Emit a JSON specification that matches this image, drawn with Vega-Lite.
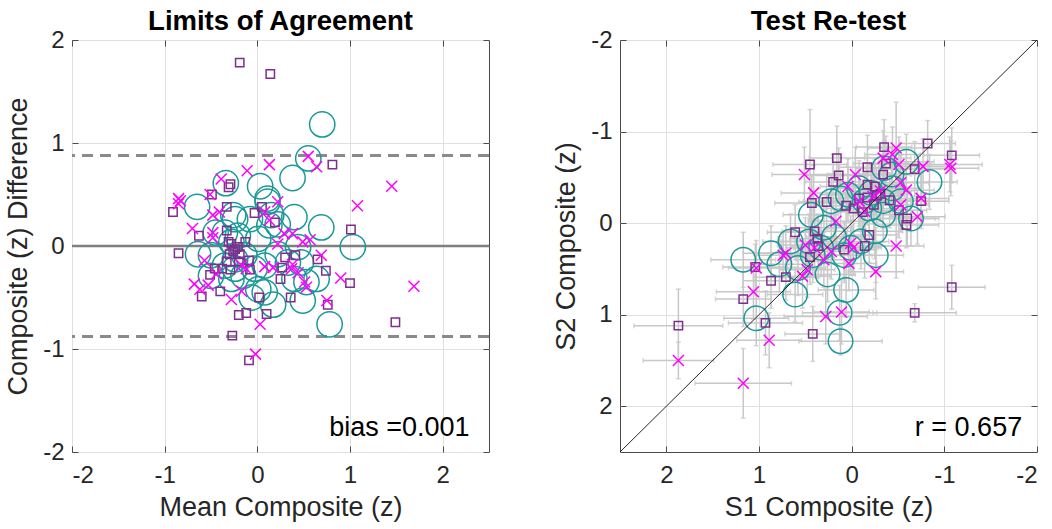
{
  "$schema": "https://vega.github.io/schema/vega-lite/v6.json",
  "background": "white",
  "padding": {"left": 4, "top": 7, "right": 5, "bottom": 5},
  "spacing": 61,
  "config": {
    "font": "Liberation Sans",
    "view": {"stroke": "#4a4a4a", "strokeWidth": 1},
    "axis": {
      "labelFont": "Liberation Sans", "labelFontSize": 24, "labelColor": "#262626",
      "titleFont": "Liberation Sans", "titleFontSize": 27, "titleFontWeight": "normal", "titleColor": "#262626",
      "domain": false, "gridColor": "#e0e0e0", "gridWidth": 1,
      "tickColor": "#4a4a4a", "tickSize": -6, "labelPadding": 14, "titlePadding": 10
    },
    "axisBottom": {"labelPadding": 17, "titlePadding": 7},
    "title": {"fontSize": 27.5, "font": "Liberation Sans", "fontWeight": "bold", "color": "#000000", "offset": -7}
  },
  "datasets": {
    "loa": [{"v": 0.878}, {"v": -0.878}],
    "zero": [{"v": 0}],
    "baSq": [
      {"m": -0.19, "d": 1.78}, {"m": 0.14, "d": 1.67}, {"m": 0.81, "d": 0.79}, {"m": -0.29, "d": 0.60}, {"m": -0.31, "d": 0.57},
      {"m": -0.49, "d": 0.50}, {"m": -0.91, "d": 0.33}, {"m": -0.33, "d": 0.38}, {"m": 0.05, "d": 0.38}, {"m": -0.03, "d": 0.32},
      {"m": 0.19, "d": 0.23}, {"m": 1.01, "d": 0.16}, {"m": -0.33, "d": 0.15}, {"m": -0.63, "d": 0.10}, {"m": -0.85, "d": -0.07},
      {"m": -0.31, "d": 0.04}, {"m": -0.28, "d": 0.02}, {"m": -0.21, "d": -0.01}, {"m": -0.13, "d": 0.04}, {"m": -0.26, "d": -0.05},
      {"m": -0.19, "d": -0.08}, {"m": 0.30, "d": -0.11}, {"m": 0.41, "d": -0.09}, {"m": 0.65, "d": -0.13}, {"m": -0.33, "d": -0.15},
      {"m": -0.20, "d": -0.15}, {"m": -0.09, "d": -0.14}, {"m": 0.74, "d": -0.24}, {"m": 1.00, "d": -0.36}, {"m": -0.38, "d": -0.22},
      {"m": -0.29, "d": -0.23}, {"m": -0.08, "d": -0.23}, {"m": 0.27, "d": -0.21}, {"m": -0.51, "d": -0.28}, {"m": 0.25, "d": -0.32},
      {"m": -0.40, "d": -0.44}, {"m": -0.60, "d": -0.49}, {"m": 0.02, "d": -0.50}, {"m": 0.36, "d": -0.50}, {"m": 0.76, "d": -0.57},
      {"m": -0.20, "d": -0.67}, {"m": -0.12, "d": -0.65}, {"m": 0.10, "d": -0.66}, {"m": 1.49, "d": -0.74}, {"m": -0.27, "d": -0.87},
      {"m": -0.09, "d": -1.11}, {"m": -0.46, "d": -0.22}, {"m": -0.24, "d": -0.03}, {"m": -0.30, "d": -0.08}
    ],
    "baX": [
      {"m": 0.55, "d": 0.87}, {"m": 0.64, "d": 0.77}, {"m": 0.13, "d": 0.79}, {"m": -0.11, "d": 0.73}, {"m": 1.45, "d": 0.58},
      {"m": 1.08, "d": 0.39}, {"m": -0.39, "d": 0.65}, {"m": -0.51, "d": 0.50}, {"m": -0.85, "d": 0.46}, {"m": -0.83, "d": 0.44},
      {"m": -0.85, "d": 0.41}, {"m": 0.22, "d": 0.43}, {"m": -0.48, "d": 0.30}, {"m": -0.41, "d": 0.33}, {"m": 0.08, "d": 0.33},
      {"m": 0.13, "d": 0.25}, {"m": -0.70, "d": 0.17}, {"m": -0.48, "d": 0.13}, {"m": -0.48, "d": 0.08}, {"m": 0.29, "d": 0.12},
      {"m": 0.38, "d": 0.12}, {"m": 0.49, "d": 0.04}, {"m": 0.57, "d": 0.06}, {"m": 0.22, "d": 0.02}, {"m": 0.69, "d": -0.09},
      {"m": -0.57, "d": -0.14}, {"m": 0.08, "d": -0.20}, {"m": 0.17, "d": -0.21}, {"m": 0.37, "d": -0.22}, {"m": -0.17, "d": -0.19},
      {"m": -0.12, "d": -0.22}, {"m": -0.44, "d": -0.27}, {"m": 0.90, "d": -0.31}, {"m": 1.69, "d": -0.39}, {"m": 0.51, "d": -0.35},
      {"m": 0.53, "d": -0.40}, {"m": -0.68, "d": -0.37}, {"m": -0.62, "d": -0.42}, {"m": -0.53, "d": -0.38}, {"m": -0.28, "d": -0.52},
      {"m": -0.17, "d": -0.44}, {"m": 0.75, "d": -0.53}, {"m": 0.03, "d": -0.76}, {"m": -0.02, "d": -1.05}, {"m": 0.44, "d": -0.26},
      {"m": 0.38, "d": -0.18}
    ],
    "baCi": [
      {"m": 0.70, "d": 1.18}, {"m": 0.55, "d": 0.85}, {"m": 0.38, "d": 0.66}, {"m": -0.34, "d": 0.61}, {"m": 0.03, "d": 0.58},
      {"m": 0.11, "d": 0.46}, {"m": 0.11, "d": 0.43}, {"m": -0.65, "d": 0.38}, {"m": -0.26, "d": 0.30}, {"m": -0.24, "d": 0.26},
      {"m": 0.15, "d": 0.30}, {"m": 0.22, "d": 0.21}, {"m": 0.13, "d": 0.20}, {"m": 0.40, "d": 0.28}, {"m": 0.69, "d": 0.18},
      {"m": 1.03, "d": -0.01}, {"m": -0.45, "d": 0.13}, {"m": -0.35, "d": 0.13}, {"m": -0.21, "d": 0.10}, {"m": -0.28, "d": 0.04},
      {"m": 0.01, "d": 0.07}, {"m": 0.44, "d": -0.01}, {"m": 0.22, "d": -0.08}, {"m": -0.64, "d": -0.08}, {"m": -0.50, "d": -0.09},
      {"m": -0.24, "d": -0.13}, {"m": -0.14, "d": -0.09}, {"m": -0.35, "d": -0.19}, {"m": -0.24, "d": -0.22}, {"m": -0.28, "d": -0.32},
      {"m": -0.50, "d": -0.29}, {"m": 0.33, "d": -0.16}, {"m": 0.47, "d": -0.16}, {"m": 0.64, "d": -0.32}, {"m": 0.40, "d": -0.32},
      {"m": 0.53, "d": -0.35}, {"m": 0.01, "d": -0.42}, {"m": -0.06, "d": -0.50}, {"m": 0.17, "d": -0.57}, {"m": 0.49, "d": -0.53},
      {"m": 0.78, "d": -0.76}, {"m": -0.15, "d": -0.29}, {"m": -0.03, "d": -0.22}, {"m": -0.08, "d": 0.26}, {"m": 0.08, "d": -0.19},
      {"m": 0.08, "d": -0.45}
    ],
    "tr": [
      {"g": "s", "a": 1.87, "b": 1.12, "ea": 0.48, "eb": 0.40}, {"g": "s", "a": 1.17, "b": 0.83, "ea": 0.30, "eb": 0.30},
      {"g": "s", "a": 1.04, "b": 0.48, "ea": 0.35, "eb": 0.25}, {"g": "s", "a": 0.87, "b": 0.63, "ea": 0.30, "eb": 0.30},
      {"g": "s", "a": 0.71, "b": 0.59, "ea": 0.35, "eb": 0.25}, {"g": "s", "a": 0.93, "b": 1.09, "ea": 0.40, "eb": 0.35},
      {"g": "s", "a": 0.42, "b": 1.21, "ea": 0.30, "eb": 0.30}, {"g": "s", "a": -0.68, "b": 0.98, "ea": 0.45, "eb": 0.10},
      {"g": "s", "a": -1.08, "b": 0.70, "ea": 0.36, "eb": 0.24}, {"g": "s", "a": 0.61, "b": 0.10, "ea": 0.30, "eb": 0.30},
      {"g": "s", "a": 0.40, "b": 0.09, "ea": 0.35, "eb": 0.30}, {"g": "s", "a": 0.36, "b": 0.25, "ea": 0.30, "eb": 0.35},
      {"g": "s", "a": 0.45, "b": 0.37, "ea": 0.25, "eb": 0.30}, {"g": "s", "a": 0.37, "b": 0.17, "ea": 0.30, "eb": 0.25},
      {"g": "s", "a": 0.08, "b": 0.29, "ea": 0.35, "eb": 0.30}, {"g": "s", "a": -0.14, "b": 0.25, "ea": 0.30, "eb": 0.35},
      {"g": "s", "a": -0.19, "b": 0.13, "ea": 0.30, "eb": 0.30}, {"g": "s", "a": 0.43, "b": -0.22, "ea": 0.40, "eb": 0.30},
      {"g": "s", "a": 0.27, "b": -0.23, "ea": 0.30, "eb": 0.30}, {"g": "s", "a": 0.06, "b": -0.19, "ea": 0.35, "eb": 0.25},
      {"g": "s", "a": 0.45, "b": -0.64, "ea": 0.40, "eb": 0.60}, {"g": "s", "a": 0.16, "b": -0.71, "ea": 0.30, "eb": 0.35},
      {"g": "s", "a": 0.14, "b": -0.52, "ea": 0.35, "eb": 0.30}, {"g": "s", "a": 0.20, "b": -0.45, "ea": 0.30, "eb": 0.30},
      {"g": "s", "a": -0.17, "b": -0.61, "ea": 0.30, "eb": 0.35}, {"g": "s", "a": -0.35, "b": -0.83, "ea": 0.30, "eb": 0.30},
      {"g": "s", "a": -0.37, "b": -0.65, "ea": 0.35, "eb": 0.30}, {"g": "s", "a": -0.82, "b": -0.87, "ea": 0.30, "eb": 0.25},
      {"g": "s", "a": -1.08, "b": -0.74, "ea": 0.30, "eb": 0.30}, {"g": "s", "a": -0.68, "b": -0.59, "ea": 0.35, "eb": 0.30},
      {"g": "s", "a": -0.75, "b": -0.24, "ea": 0.30, "eb": 0.30}, {"g": "s", "a": -0.60, "b": -0.05, "ea": 0.30, "eb": 0.30},
      {"g": "s", "a": -0.59, "b": 0.02, "ea": 0.35, "eb": 0.25}, {"g": "s", "a": -0.51, "b": -0.14, "ea": 0.30, "eb": 0.30},
      {"g": "s", "a": -0.41, "b": -0.25, "ea": 0.30, "eb": 0.30}, {"g": "s", "a": -0.17, "b": -0.42, "ea": 0.30, "eb": 0.30},
      {"g": "s", "a": -0.25, "b": -0.40, "ea": 0.30, "eb": 0.30}, {"g": "s", "a": -0.27, "b": -0.30, "ea": 0.30, "eb": 0.30},
      {"g": "s", "a": -0.31, "b": -0.32, "ea": 0.30, "eb": 0.30}, {"g": "s", "a": -0.17, "b": -0.28, "ea": 0.30, "eb": 0.30},
      {"g": "s", "a": -0.08, "b": -0.27, "ea": 0.30, "eb": 0.30}, {"g": "s", "a": -0.34, "b": -0.53, "ea": 0.30, "eb": 0.30},
      {"g": "s", "a": -0.02, "b": -0.16, "ea": 0.30, "eb": 0.30}, {"g": "s", "a": -0.24, "b": -0.20, "ea": 0.30, "eb": 0.30},
      {"g": "s", "a": -0.12, "b": -0.12, "ea": 0.30, "eb": 0.30},
      {"g": "x", "a": 1.87, "b": 1.50, "ea": 0.38, "eb": 0.20}, {"g": "x", "a": 1.17, "b": 1.75, "ea": 0.52, "eb": 0.38},
      {"g": "x", "a": 0.89, "b": 1.28, "ea": 0.35, "eb": 0.30}, {"g": "x", "a": 1.06, "b": 0.75, "ea": 0.40, "eb": 0.30},
      {"g": "x", "a": 1.03, "b": 0.49, "ea": 0.30, "eb": 0.30}, {"g": "x", "a": 0.74, "b": 0.35, "ea": 0.30, "eb": 0.25},
      {"g": "x", "a": 0.71, "b": 0.33, "ea": 0.35, "eb": 0.30}, {"g": "x", "a": 0.53, "b": 0.58, "ea": 0.30, "eb": 0.35},
      {"g": "x", "a": 0.48, "b": 0.51, "ea": 0.30, "eb": 0.30}, {"g": "x", "a": 0.50, "b": 0.24, "ea": 0.30, "eb": 0.30},
      {"g": "x", "a": 0.41, "b": -0.33, "ea": 0.35, "eb": 0.30}, {"g": "x", "a": 0.51, "b": -0.53, "ea": 0.35, "eb": 0.30},
      {"g": "x", "a": 0.28, "b": 1.02, "ea": 0.45, "eb": 0.30}, {"g": "x", "a": 0.11, "b": 0.97, "ea": 0.30, "eb": 0.35},
      {"g": "x", "a": 0.30, "b": 0.40, "ea": 0.30, "eb": 0.30}, {"g": "x", "a": 0.22, "b": 0.31, "ea": 0.30, "eb": 0.30},
      {"g": "x", "a": 0.03, "b": 0.44, "ea": 0.30, "eb": 0.30}, {"g": "x", "a": -0.02, "b": 0.27, "ea": 0.30, "eb": 0.30},
      {"g": "x", "a": -0.26, "b": 0.53, "ea": 0.30, "eb": 0.30}, {"g": "x", "a": -0.48, "b": 0.25, "ea": 0.30, "eb": 0.35},
      {"g": "x", "a": 0.17, "b": -0.02, "ea": 0.30, "eb": 0.30}, {"g": "x", "a": 0.04, "b": -0.40, "ea": 0.30, "eb": 0.30},
      {"g": "x", "a": -0.04, "b": -0.53, "ea": 0.30, "eb": 0.30}, {"g": "x", "a": -0.08, "b": -0.24, "ea": 0.30, "eb": 0.30},
      {"g": "x", "a": -0.23, "b": -0.29, "ea": 0.30, "eb": 0.30}, {"g": "x", "a": -0.14, "b": -0.13, "ea": 0.30, "eb": 0.30},
      {"g": "x", "a": -0.48, "b": -0.82, "ea": 0.30, "eb": 0.50}, {"g": "x", "a": -0.44, "b": -0.75, "ea": 0.30, "eb": 0.30},
      {"g": "x", "a": -0.34, "b": -0.71, "ea": 0.30, "eb": 0.30}, {"g": "x", "a": -0.51, "b": -0.64, "ea": 0.35, "eb": 0.30},
      {"g": "x", "a": -0.53, "b": -0.44, "ea": 0.30, "eb": 0.30}, {"g": "x", "a": -0.59, "b": -0.36, "ea": 0.30, "eb": 0.30},
      {"g": "x", "a": -0.77, "b": -0.62, "ea": 0.30, "eb": 0.30}, {"g": "x", "a": -0.75, "b": -0.27, "ea": 0.30, "eb": 0.30},
      {"g": "x", "a": -0.71, "b": -0.07, "ea": 0.30, "eb": 0.30}, {"g": "x", "a": -1.06, "b": -0.64, "ea": 0.35, "eb": 0.30},
      {"g": "x", "a": -1.07, "b": -0.60, "ea": 0.30, "eb": 0.30}, {"g": "x", "a": -0.53, "b": -0.20, "ea": 0.30, "eb": 0.30},
      {"g": "x", "a": -0.31, "b": -0.35, "ea": 0.30, "eb": 0.30}, {"g": "x", "a": 0.01, "b": 0.22, "ea": 0.30, "eb": 0.30},
      {"g": "x", "a": 0.40, "b": 0.27, "ea": 0.30, "eb": 0.30},
      {"g": "c", "a": 1.17, "b": 0.40, "ea": 0.35, "eb": 0.30}, {"g": "c", "a": 1.03, "b": 1.04, "ea": 0.35, "eb": 0.30},
      {"g": "c", "a": 0.61, "b": 0.78, "ea": 0.30, "eb": 0.30}, {"g": "c", "a": 0.78, "b": 0.45, "ea": 0.30, "eb": 0.30},
      {"g": "c", "a": 0.66, "b": 0.20, "ea": 0.30, "eb": 0.30}, {"g": "c", "a": 0.46, "b": 0.20, "ea": 0.30, "eb": 0.30},
      {"g": "c", "a": 0.42, "b": 0.35, "ea": 0.30, "eb": 0.30}, {"g": "c", "a": 0.26, "b": 0.56, "ea": 0.30, "eb": 0.30},
      {"g": "c", "a": 0.06, "b": 0.73, "ea": 0.30, "eb": 0.30}, {"g": "c", "a": 0.13, "b": 0.98, "ea": 0.40, "eb": 0.30},
      {"g": "c", "a": 0.12, "b": 1.29, "ea": 0.45, "eb": 0.15}, {"g": "c", "a": 0.44, "b": -0.09, "ea": 0.30, "eb": 0.30},
      {"g": "c", "a": 0.22, "b": -0.24, "ea": 0.30, "eb": 0.30}, {"g": "c", "a": 0.04, "b": -0.31, "ea": 0.30, "eb": 0.30},
      {"g": "c", "a": -0.08, "b": -0.38, "ea": 0.30, "eb": 0.30}, {"g": "c", "a": -0.21, "b": -0.33, "ea": 0.30, "eb": 0.30},
      {"g": "c", "a": -0.34, "b": -0.24, "ea": 0.30, "eb": 0.30}, {"g": "c", "a": -0.44, "b": -0.38, "ea": 0.30, "eb": 0.30},
      {"g": "c", "a": -0.59, "b": -0.67, "ea": 0.30, "eb": 0.30}, {"g": "c", "a": -0.84, "b": -0.45, "ea": 0.30, "eb": 0.30},
      {"g": "c", "a": -0.64, "b": -0.05, "ea": 0.30, "eb": 0.30}, {"g": "c", "a": -0.34, "b": -0.09, "ea": 0.30, "eb": 0.30},
      {"g": "c", "a": -0.19, "b": -0.16, "ea": 0.30, "eb": 0.30}, {"g": "c", "a": 0.01, "b": 0.27, "ea": 0.30, "eb": 0.30},
      {"g": "c", "a": -0.10, "b": 0.20, "ea": 0.30, "eb": 0.30}, {"g": "c", "a": -0.26, "b": 0.35, "ea": 0.30, "eb": 0.30},
      {"g": "c", "a": 0.08, "b": 0.35, "ea": 0.30, "eb": 0.30}, {"g": "c", "a": 0.19, "b": 0.15, "ea": 0.30, "eb": 0.30},
      {"g": "c", "a": 0.30, "b": 0.05, "ea": 0.30, "eb": 0.30}, {"g": "c", "a": 0.33, "b": 0.27, "ea": 0.30, "eb": 0.30},
      {"g": "c", "a": -0.35, "b": -0.60, "ea": 0.30, "eb": 0.30}, {"g": "c", "a": -0.14, "b": -0.24, "ea": 0.30, "eb": 0.30},
      {"g": "c", "a": -0.43, "b": -0.53, "ea": 0.30, "eb": 0.30}, {"g": "c", "a": -0.53, "b": -0.24, "ea": 0.30, "eb": 0.30},
      {"g": "c", "a": 0.12, "b": -0.27, "ea": 0.30, "eb": 0.30}, {"g": "c", "a": -0.25, "b": 0.09, "ea": 0.30, "eb": 0.30},
      {"g": "c", "a": 0.58, "b": 0.49, "ea": 0.30, "eb": 0.30}, {"g": "c", "a": 0.87, "b": 0.33, "ea": 0.30, "eb": 0.30}
    ]
  },
  "hconcat": [
    {
      "width": 417,
      "height": 412,
      "title": "Limits of Agreement",
      "resolve": {"axis": {"x": "independent", "y": "independent"}},
      "layer": [
        {
          "data": {"name": "loa"},
          "mark": {"type": "rule", "color": "#8a8a8a", "strokeWidth": 3, "strokeDash": [11, 7]},
          "encoding": {
            "y": {"field": "v", "type": "quantitative", "scale": {"domain": [-2, 2], "nice": false, "zero": false},
                  "axis": {"values": [-2, -1, 0, 1, 2], "title": "Composite (z) Difference", "labelExpr": "'' + datum.value"}}
          }
        },
        {
          "data": {"name": "zero"},
          "mark": {"type": "rule", "color": "#7f7f7f", "strokeWidth": 2.5},
          "encoding": {"y": {"field": "v", "type": "quantitative", "axis": null}}
        },
        {
          "data": {"name": "baCi"},
          "mark": {"type": "point", "shape": "circle", "filled": false, "size": 640, "color": "#199a98", "strokeWidth": 1.5, "opacity": 1},
          "encoding": {
            "x": {"field": "m", "type": "quantitative", "scale": {"domain": [-2, 2.5], "nice": false, "zero": false},
                  "axis": {"values": [-2, -1, 0, 1, 2], "title": "Mean Composite (z)", "labelExpr": "'' + datum.value"}},
            "y": {"field": "d", "type": "quantitative", "axis": null}
          }
        },
        {
          "data": {"name": "baSq"},
          "mark": {"type": "point", "shape": "square", "filled": false, "size": 70, "color": "#7e2f8e", "strokeWidth": 1.5, "opacity": 1},
          "encoding": {
            "x": {"field": "m", "type": "quantitative", "axis": null},
            "y": {"field": "d", "type": "quantitative", "axis": null}
          }
        },
        {
          "data": {"name": "baX"},
          "mark": {"type": "point", "shape": "M-1,-1L1,1M-1,1L1,-1", "filled": false, "size": 121, "color": "#ff00ff", "strokeWidth": 1.5, "opacity": 1},
          "encoding": {
            "x": {"field": "m", "type": "quantitative", "axis": null},
            "y": {"field": "d", "type": "quantitative", "axis": null}
          }
        },
        {
          "data": {"values": [{"note": "bias =0.001"}]},
          "mark": {"type": "text", "align": "right", "baseline": "alphabetic", "fontSize": 27, "font": "Liberation Sans", "color": "#000000"},
          "encoding": {
            "x": {"datum": 2.29, "type": "quantitative", "axis": {"orient": "top", "values": [-2, -1, 0, 1, 2], "labels": false, "grid": false, "title": null}},
            "y": {"datum": -1.84, "type": "quantitative", "axis": {"orient": "right", "values": [-2, -1, 0, 1, 2], "labels": false, "grid": false, "title": null}},
            "text": {"field": "note"}
          }
        }
      ]
    },
    {
      "width": 417,
      "height": 412,
      "title": "Test Re-test",
      "resolve": {"axis": {"x": "independent", "y": "independent"}},
      "layer": [
        {
          "data": {"name": "tr"},
          "mark": {"type": "errorbar", "ticks": true, "color": "#c8c8c8", "thickness": 1.5},
          "encoding": {
            "x": {"field": "a", "type": "quantitative", "scale": {"domain": [-2, 2.5], "nice": false, "zero": false, "reverse": true},
                  "axis": {"values": [-2, -1, 0, 1, 2], "title": "S1 Composite (z)", "labelExpr": "'' + datum.value"}},
            "xError": {"field": "ea"},
            "y": {"field": "b", "type": "quantitative", "scale": {"domain": [-2, 2.5], "nice": false, "zero": false, "reverse": true},
                  "axis": {"values": [-2, -1, 0, 1, 2], "title": "S2 Composite (z)", "labelExpr": "'' + datum.value"}}
          }
        },
        {
          "data": {"name": "tr"},
          "mark": {"type": "errorbar", "ticks": true, "color": "#c8c8c8", "thickness": 1.5},
          "encoding": {
            "x": {"field": "a", "type": "quantitative", "axis": null},
            "y": {"field": "b", "type": "quantitative", "axis": null},
            "yError": {"field": "eb"}
          }
        },
        {
          "data": {"name": "tr"},
          "transform": [{"filter": "datum.g === 'c'"}],
          "mark": {"type": "point", "shape": "circle", "filled": false, "size": 600, "color": "#199a98", "strokeWidth": 1.5, "opacity": 1},
          "encoding": {
            "x": {"field": "a", "type": "quantitative", "axis": null},
            "y": {"field": "b", "type": "quantitative", "axis": null}
          }
        },
        {
          "data": {"name": "tr"},
          "transform": [{"filter": "datum.g === 's'"}],
          "mark": {"type": "point", "shape": "square", "filled": false, "size": 70, "color": "#7e2f8e", "strokeWidth": 1.5, "opacity": 1},
          "encoding": {
            "x": {"field": "a", "type": "quantitative", "axis": null},
            "y": {"field": "b", "type": "quantitative", "axis": null}
          }
        },
        {
          "data": {"name": "tr"},
          "transform": [{"filter": "datum.g === 'x'"}],
          "mark": {"type": "point", "shape": "M-1,-1L1,1M-1,1L1,-1", "filled": false, "size": 121, "color": "#ff00ff", "strokeWidth": 1.5, "opacity": 1},
          "encoding": {
            "x": {"field": "a", "type": "quantitative", "axis": null},
            "y": {"field": "b", "type": "quantitative", "axis": null}
          }
        },
        {
          "data": {"values": [{"lo": -2, "hi": 2.5}]},
          "mark": {"type": "rule", "color": "#262626", "strokeWidth": 1},
          "encoding": {
            "x": {"field": "hi", "type": "quantitative", "axis": null},
            "x2": {"field": "lo"},
            "y": {"field": "hi", "type": "quantitative", "axis": null},
            "y2": {"field": "lo"}
          }
        },
        {
          "data": {"values": [{"note": "r = 0.657"}]},
          "mark": {"type": "text", "align": "right", "baseline": "alphabetic", "fontSize": 27, "font": "Liberation Sans", "color": "#000000"},
          "encoding": {
            "x": {"datum": -1.84, "type": "quantitative", "axis": {"orient": "top", "values": [-2, -1, 0, 1, 2], "labels": false, "grid": false, "title": null}},
            "y": {"datum": 2.33, "type": "quantitative", "axis": {"orient": "right", "values": [-2, -1, 0, 1, 2], "labels": false, "grid": false, "title": null}},
            "text": {"field": "note"}
          }
        }
      ]
    }
  ]
}
